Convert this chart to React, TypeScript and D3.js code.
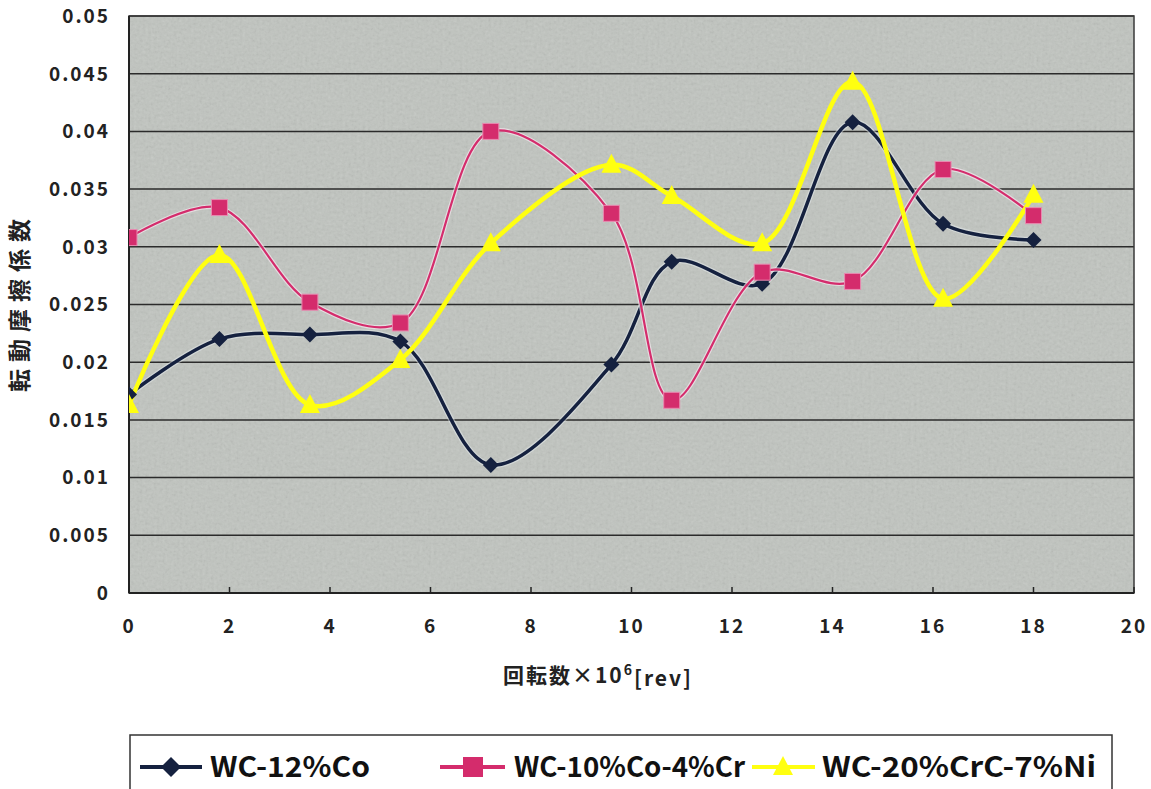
import React from "react";
import * as d3 from "d3";

// x positions (×10^6 rev)
const revs = [0, 1.8, 3.6, 5.4, 7.2, 9.6, 10.8, 12.6, 14.4, 16.2, 18];

const wcCo = [0.0172, 0.022, 0.0224, 0.0218, 0.0111, 0.0198, 0.0287, 0.0268, 0.0408, 0.032, 0.0306];
const wcCoCr = [0.0308, 0.0334, 0.0252, 0.0234, 0.04, 0.0329, 0.0167, 0.0278, 0.027, 0.0367, 0.0327];
const wcCrcNi = [0.0163, 0.0293, 0.0163, 0.0202, 0.0303, 0.0371, 0.0344, 0.0303, 0.0443, 0.0255, 0.0345];

const xTicks = [0, 2, 4, 6, 8, 10, 12, 14, 16, 18, 20];
const yTicks = [0, 0.005, 0.01, 0.015, 0.02, 0.025, 0.03, 0.035, 0.04, 0.045, 0.05];
const seriesNames = ["WC-12%Co", "WC-10%Co-4%Cr", "WC-20%CrC-7%Ni"];

const W = 1151;
const H = 789;
const left = 129, right = 1134, top = 16, bottom = 593;
const font = "'Noto Sans CJK JP', 'Liberation Sans', sans-serif";

export default function App() {
  const x = d3.scaleLinear().domain([0, 20]).range([left, right]);
  const y = d3.scaleLinear().domain([0, 0.05]).range([bottom, top]);
  const line = d3
    .line<[number, number]>()
    .x((d) => x(d[0]))
    .y((d) => y(d[1]))
    .curve(d3.curveCatmullRom.alpha(0.5));

  const pts = (vals: number[]) => revs.map((r, i) => [r, vals[i]] as [number, number]);

  const diamond = (cx: number, cy: number, s = 8) =>
    `M${cx},${cy - s}L${cx + s},${cy}L${cx},${cy + s}L${cx - s},${cy}Z`;
  const tri = (cx: number, cy: number, s = 9) =>
    `M${cx},${cy - s - 2}L${cx + s + 1},${cy + s - 1}L${cx - s - 1},${cy + s - 1}Z`;

  const legendY = 767;

  return (
    <svg width={W} height={H} style={{ position: "absolute", left: 0, top: 0, background: "#fff" }}>
      <defs>
        <filter id="grain" x="0" y="0" width="100%" height="100%">
          <feTurbulence type="fractalNoise" baseFrequency="0.35" numOctaves="2" seed="3" />
          <feColorMatrix type="saturate" values="0" />
          <feComponentTransfer>
            <feFuncA type="linear" slope="0.25" />
          </feComponentTransfer>
          <feComposite in2="SourceGraphic" operator="in" />
        </filter>
        <clipPath id="plot">
          <rect x={left} y={top - 20} width={right - left} height={bottom - top + 40} />
        </clipPath>
      </defs>

      {/* plot background */}
      <rect x={left} y={top} width={right - left} height={bottom - top} fill="#c0c4bf" />
      <rect x={left} y={top} width={right - left} height={bottom - top} fill="#c0c4bf" filter="url(#grain)" />

      {/* gridlines */}
      {yTicks.slice(1).map((t) => (
        <line key={t} x1={left} x2={right} y1={y(t)} y2={y(t)} stroke="#2b2b2b" strokeWidth={1.5} />
      ))}
      <rect x={left} y={top} width={right - left} height={bottom - top} fill="none" stroke="#3a3a3a" strokeWidth={1.5} />
      <line x1={left} x2={right} y1={bottom} y2={bottom} stroke="#222" strokeWidth={2} />
      <line x1={left} x2={left} y1={top} y2={bottom} stroke="#222" strokeWidth={2} />
      {xTicks.map((t) => (
        <line key={t} x1={x(t)} x2={x(t)} y1={bottom} y2={bottom - 6} stroke="#222" strokeWidth={1.5} />
      ))}

      {/* y tick labels */}
      {yTicks.map((t) => (
        <text key={t} x={110} y={y(t)} dy="0.36em" textAnchor="end" fontFamily={font} fontWeight={700}
          fontSize={19} letterSpacing={2} fill="#222">
          {t === 0 ? "0" : String(t)}
        </text>
      ))}
      {/* x tick labels */}
      {xTicks.map((t) => (
        <text key={t} x={x(t)} y={626} dy="0.36em" textAnchor="middle" fontFamily={font} fontWeight={700}
          fontSize={19} letterSpacing={2} fill="#222">
          {t}
        </text>
      ))}

      {/* axis titles */}
      <text transform={`translate(20,${302}) rotate(-90)`} textAnchor="middle" dy="0.36em" fontFamily={font}
        fontWeight={700} fontSize={23} letterSpacing={7} fill="#222">
        転動摩擦係数
      </text>
      <text x={598} y={675} dy="0.36em" textAnchor="middle" fontFamily={font} fontWeight={700} fontSize={21}
        letterSpacing={2} fill="#222">
        回転数×10<tspan dy="-0.55em" fontSize={14}>6</tspan><tspan dy="0.55em">[rev]</tspan>
      </text>

      {/* series */}
      <g clipPath="url(#plot)">
        <path d={line(pts(wcCo)) ?? ""} fill="none" stroke="#e8eef0" strokeOpacity={0.5} strokeWidth={6} />
        <path d={line(pts(wcCo)) ?? ""} fill="none" stroke="#15213f" strokeWidth={3.5} />
        <path d={line(pts(wcCoCr)) ?? ""} fill="none" stroke="#f3e8ee" strokeOpacity={0.7} strokeWidth={4.5} />
        <path d={line(pts(wcCoCr)) ?? ""} fill="none" stroke="#d42c6c" strokeWidth={2.2} />
        <path d={line(pts(wcCrcNi)) ?? ""} fill="none" stroke="#ffff10" strokeWidth={4.5} />

        {pts(wcCo).map(([a, b], i) => (
          <path key={"d" + i} d={diamond(x(a), y(b))} fill="#15213f" />
        ))}
        {pts(wcCoCr).map(([a, b], i) => (
          <rect key={"s" + i} x={x(a) - 8} y={y(b) - 8} width={16} height={16} fill="#d42c6c" stroke="#e88ab0" strokeWidth={1} />
        ))}
        {pts(wcCrcNi).map(([a, b], i) => (
          <path key={"t" + i} d={tri(x(a), y(b))} fill="#ffff10" />
        ))}
      </g>

      {/* legend */}
      <rect x={130} y={735} width={982} height={60} fill="#fff" stroke="#333" strokeWidth={1.5} />
      <line x1={140} x2={202} y1={legendY} y2={legendY} stroke="#15213f" strokeWidth={4} />
      <path d={diamond(171, legendY, 10)} fill="#15213f" />
      <text x={210} y={legendY} dy="0.36em" fontFamily={font} fontWeight={700} fontSize={28} fill="#111"
        textLength={160} lengthAdjust="spacingAndGlyphs">
        {seriesNames[0]}
      </text>
      <line x1={440} x2={505} y1={legendY} y2={legendY} stroke="#d42c6c" strokeWidth={4} />
      <rect x={463} y={legendY - 10} width={20} height={20} fill="#d42c6c" />
      <text x={514} y={legendY} dy="0.36em" fontFamily={font} fontWeight={700} fontSize={28} fill="#111"
        textLength={231} lengthAdjust="spacingAndGlyphs">
        {seriesNames[1]}
      </text>
      <line x1={752} x2={815} y1={legendY} y2={legendY} stroke="#ffff10" strokeWidth={4} />
      <path d={tri(783, legendY, 9)} fill="#ffff10" />
      <text x={822} y={legendY} dy="0.36em" fontFamily={font} fontWeight={700} fontSize={28} fill="#111"
        textLength={274} lengthAdjust="spacingAndGlyphs">
        {seriesNames[2]}
      </text>
    </svg>
  );
}
